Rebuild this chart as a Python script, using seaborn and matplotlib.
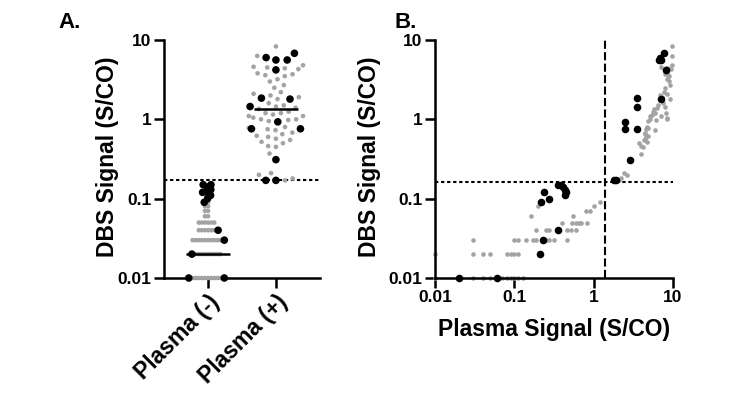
import numpy as np
import pandas as pd
import matplotlib
matplotlib.use('Agg')
import matplotlib.pyplot as plt
from matplotlib.ticker import NullLocator
import seaborn as sns

# Plasma (x) and DBS (y) signals, S/CO
# grey = small dots, black = large dots
neg_grey_plasma = [0.01, 0.03, 0.04, 0.05, 0.07, 0.08, 0.09, 0.10, 0.11, 0.13,
                   0.01, 0.03, 0.04, 0.05, 0.08, 0.09, 0.10, 0.11, 0.22,
                   0.03, 0.10, 0.11, 0.14, 0.17, 0.19, 0.25, 0.27, 0.32, 0.46,
                   0.19, 0.25, 0.27, 0.46, 0.52, 0.60,
                   0.40, 0.53, 0.60, 0.65, 0.70, 0.82,
                   0.16, 0.55, 0.80, 0.90, 0.20, 1.00, 1.20]
neg_grey_dbs = [0.01, 0.01, 0.01, 0.01, 0.01, 0.01, 0.01, 0.01, 0.01, 0.01,
                0.02, 0.02, 0.02, 0.02, 0.02, 0.02, 0.02, 0.02, 0.02,
                0.03, 0.03, 0.03, 0.03, 0.03, 0.03, 0.03, 0.03, 0.03, 0.03,
                0.04, 0.04, 0.04, 0.04, 0.04, 0.04,
                0.05, 0.05, 0.05, 0.05, 0.05, 0.05,
                0.06, 0.06, 0.07, 0.07, 0.08, 0.08, 0.09]

neg_black_plasma = [0.02, 0.06, 0.21, 0.23, 0.36, 0.22, 0.27, 0.24, 0.36, 0.39, 0.41, 0.43, 0.45, 0.44]
neg_black_dbs = [0.01, 0.01, 0.02, 0.03, 0.04, 0.09, 0.10, 0.12, 0.15, 0.15, 0.14, 0.13, 0.12, 0.11]

pos_grey_plasma = [9.6, 9.6, 9.7, 8.6, 8.2, 7.0, 9.4, 8.4, 8.7, 8.0, 9.0, 8.3, 8.8,
                   9.2, 7.9, 7.6, 8.3, 7.2, 6.8, 9.3, 6.5, 7.4, 6.2, 8.0, 5.8,
                   5.6, 6.0, 5.4, 8.2, 7.0, 5.1, 8.3, 8.5, 5.2, 4.8, 6.1,
                   4.7, 6.0, 4.6, 4.9, 4.5, 4.4, 4.8, 4.6, 4.4, 4.3, 4.7, 3.7,
                   3.9, 4.2, 4.0, 2.4, 2.6, 2.1, 2.2]
pos_grey_dbs = [8.3, 6.3, 4.8, 4.5, 4.4, 4.6, 4.3, 3.8, 3.6, 3.7, 3.5, 3.2, 3.0,
                2.7, 2.5, 2.2, 2.1, 1.9, 2.0, 1.8, 1.5, 1.6, 1.4, 1.45, 1.35,
                1.25, 1.2, 1.15, 1.2, 1.1, 1.1, 1.05, 1.0, 1.0, 0.95, 0.98,
                0.8, 0.73, 0.75, 0.78, 0.68, 0.65, 0.62, 0.6, 0.57, 0.55, 0.52, 0.5,
                0.46, 0.45, 0.37, 0.21, 0.20, 0.17, 0.18]

pos_black_plasma = [1.8, 1.9, 2.9, 2.5, 2.5, 3.5, 3.5, 3.5, 7.1, 8.1, 6.6, 6.9, 7.6, 7.0]
pos_black_dbs = [0.17, 0.17, 0.31, 0.93, 0.76, 1.85, 1.45, 0.76, 1.8, 4.2, 5.6, 6.0, 6.8, 5.6]

categories = ['Plasma (-)', 'Plasma (+)']
medians = [0.02, 1.35]
dbs_cutoff_a = 0.17
dbs_cutoff_b = 0.16
plasma_cutoff = 1.4
log_ticks = [0.01, 0.1, 1, 10]
log_labels = ['0.01', '0.1', '1', '10']

grey = '#a3a3a3'
s_grey = 11
s_black = 30
# marker area used only to lay the swarm out (grey, black) per column:
# the (-) column is packed tighter than drawn, the (+) column looser, like Prism
swarm_spacing = {0: (4.5, 10), 1: (30, 48)}

# long table, grey rows first so black dots are drawn on top
df = pd.concat([
    pd.DataFrame({'plasma': neg_grey_plasma, 'dbs': neg_grey_dbs, 'group': categories[0], 'kind': 'grey'}),
    pd.DataFrame({'plasma': pos_grey_plasma, 'dbs': pos_grey_dbs, 'group': categories[1], 'kind': 'grey'}),
    pd.DataFrame({'plasma': neg_black_plasma, 'dbs': neg_black_dbs, 'group': categories[0], 'kind': 'black'}),
    pd.DataFrame({'plasma': pos_black_plasma, 'dbs': pos_black_dbs, 'group': categories[1], 'kind': 'black'}),
], ignore_index=True)

sns.set_style('ticks')
plt.rcParams['font.family'] = ['Liberation Sans', 'DejaVu Sans']
plt.rcParams['font.weight'] = 'bold'
plt.rcParams['axes.labelweight'] = 'bold'
plt.rcParams['axes.linewidth'] = 1.8
for key in ['text.color', 'axes.labelcolor', 'xtick.color', 'ytick.color', 'axes.edgecolor']:
    plt.rcParams[key] = 'black'

fig = plt.figure(figsize=(7.31, 4.07), dpi=100)
ax1 = fig.add_axes([164 / 731, 1 - 278 / 407, 156 / 731, 238 / 407])
ax2 = fig.add_axes([435 / 731, 1 - 278 / 407, 238 / 731, 238 / 407])

# Panel A
# =======
sns.swarmplot(data=df, x='group', y='dbs', hue='kind', order=categories,
              hue_order=['grey', 'black'], palette={'grey': grey, 'black': 'black'},
              size=3.3, log_scale=True, legend=False, clip_on=False,
              warn_thresh=1, ax=ax1)
ax1.set_xlim(-0.65, 1.65)
ax1.set_ylim(0.01, 10)

swarm = list(ax1.collections)
for coll in swarm:
    col = int(round(coll.get_offsets()[:, 0].mean()))
    black = coll.get_facecolors()[:, 0] < 0.3
    coll.set_sizes(np.where(black, swarm_spacing[col][1], swarm_spacing[col][0]))
fig.canvas.draw()  # seaborn does the swarm layout at draw time
for coll in swarm:
    del coll.draw  # keep the positions, draw with the real marker sizes
    black = coll.get_facecolors()[:, 0] < 0.3
    coll.set_sizes(np.where(black, s_black, s_grey))

for i, m in enumerate(medians):
    ax1.hlines(m, i - 0.33, i + 0.33, color='black', lw=1.8, zorder=3)
ax1.axhline(dbs_cutoff_a, color='black', lw=1.5, ls=(0, (1.6, 1.3)), zorder=0)

ax1.set_yticks(log_ticks)
ax1.set_yticklabels(log_labels)
ax1.yaxis.set_minor_locator(NullLocator())
ax1.set_xticks([0, 1])
ax1.set_xticklabels(categories, rotation=45, ha='right', rotation_mode='anchor')
ax1.set_xlabel('')
ax1.set_ylabel('DBS Signal (S/CO)', fontsize=16.5)
ax1.yaxis.set_label_coords(-0.29, 0.51)

# Panel B
# =======
neg = df['kind'] == 'grey'
sns.scatterplot(data=df[neg], x='plasma', y='dbs', color=grey, s=s_grey,
                linewidth=0, clip_on=False, ax=ax2)
sns.scatterplot(data=df[~neg], x='plasma', y='dbs', color='black', s=s_black,
                linewidth=0, clip_on=False, ax=ax2)
ax2.set_xscale('log')
ax2.set_yscale('log')
ax2.axhline(dbs_cutoff_b, color='black', lw=1.5, ls=(0, (1.6, 1.3)), zorder=0)
ax2.axvline(plasma_cutoff, color='black', lw=1.5, ls=(0, (3.9, 1.6)), zorder=0)

ax2.set_xlim(0.01, 10)
ax2.set_ylim(0.01, 10)
ax2.set_xticks(log_ticks)
ax2.set_xticklabels(log_labels)
ax2.set_yticks(log_ticks)
ax2.set_yticklabels(log_labels)
ax2.xaxis.set_minor_locator(NullLocator())
ax2.yaxis.set_minor_locator(NullLocator())
ax2.set_xlabel('Plasma Signal (S/CO)', fontsize=16.5, labelpad=9)
ax2.set_ylabel('DBS Signal (S/CO)', fontsize=16.5)
ax2.yaxis.set_label_coords(-0.227, 0.51)

for ax in (ax1, ax2):
    sns.despine(ax=ax)
    ax.tick_params(direction='out', length=7, width=1.8, labelsize=12.5, pad=2, color='black')
    for sp in ax.spines.values():
        sp.set_linewidth(1.8)
        sp.set_color('black')
ax1.tick_params(axis='x', labelsize=16.5)

fig.text(58 / 731, 1 - 28 / 407, 'A.', fontsize=16, fontweight='bold', va='baseline')
fig.text(395 / 731, 1 - 28 / 407, 'B.', fontsize=16, fontweight='bold', va='baseline')

fig.savefig('out.png', dpi=100)
